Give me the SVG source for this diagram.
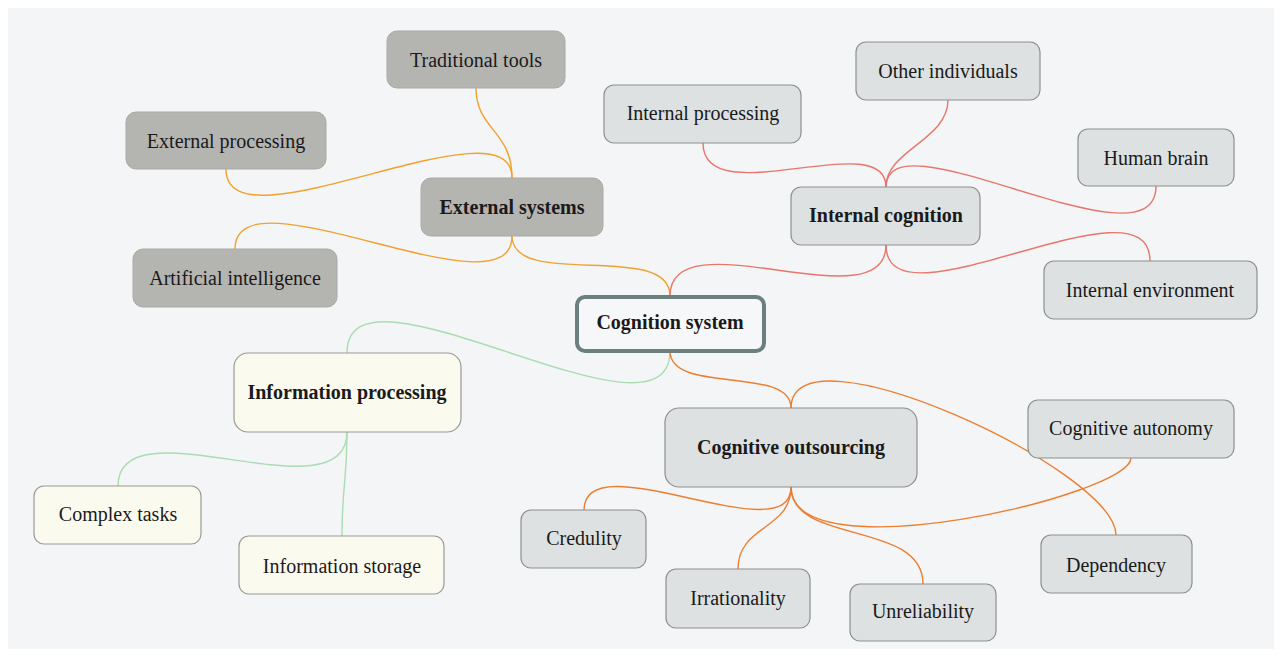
<svg xmlns="http://www.w3.org/2000/svg" width="1282" height="657" viewBox="0 0 1282 657">
<defs>
<style>
.t{font-family:"Liberation Serif","Times New Roman",serif;font-size:20px;fill:#1a1a1a;text-anchor:middle;dominant-baseline:central}
.b{font-weight:bold}
.g{fill:#b4b4b1;stroke:#a9a9a6;stroke-width:1}
.l{fill:#dde1e1;stroke:#8c9090;stroke-width:1.2}
.c{fill:#fafaef;stroke:#9a9a94;stroke-width:1.2}
.m{fill:#f6f7f8;stroke:#6b7f7f;stroke-width:4}
.e{fill:none;stroke-width:1.4}
.ex{stroke:#f2a12c}
.in{stroke:#e8766c}
.gr{stroke:#a9dcb2}
.co{stroke:#ec7e30}
</style>
</defs>
<rect x="0" y="0" width="1282" height="657" fill="#ffffff"/>
<rect x="8" y="8" width="1266" height="641" fill="#f4f5f6"/>
<g id="connectors">
<path class="e ex" d="M512,236 C512,290 670,240 670,296"/>
<path class="e ex" d="M512,236 C512,320 235,165 235,249"/>
<path class="e ex" d="M512,178 C512,130 476,130 476,88"/>
<path class="e ex" d="M512,178 C512,95 226,255 226,169"/>
<path class="e in" d="M670,296 C670,215 886,325 886,245"/>
<path class="e in" d="M886,245 C886,335 1150,170 1150,261"/>
<path class="e in" d="M886,187 C886,125 703,215 703,143"/>
<path class="e in" d="M886,187 C886,150 948,140 948,100"/>
<path class="e in" d="M886,187 C886,110 1156,275 1156,186"/>
<path class="e gr" d="M670,351 C670,460 347,245 347,353"/>
<path class="e gr" d="M347,432 C347,520 118,400 118,486"/>
<path class="e gr" d="M347,432 C347,484 342,484 342,536"/>
<path class="e co" d="M670,351 C670,395 791,365 791,408"/>
<path class="e co" d="M791,408 C791,320 1116,470 1116,535"/>
<path class="e co" d="M791,487 C791,575 1131,495 1131,458"/>
<path class="e co" d="M791,487 C791,555 584,440 584,510"/>
<path class="e co" d="M791,487 C791,530 738,525 738,569"/>
<path class="e co" d="M791,487 C791,545 923,520 923,584"/>
</g>
<g id="traditional-tools"><rect class="g" x="387" y="31" width="178" height="57" rx="10"/><text class="t" x="476" y="59.5">Traditional tools</text></g>
<g id="external-processing"><rect class="g" x="126" y="112" width="200" height="57" rx="10"/><text class="t" x="226" y="140.5">External processing</text></g>
<g id="external-systems"><rect class="g" x="421" y="178" width="182" height="58" rx="10"/><text class="t b" x="512" y="207">External systems</text></g>
<g id="artificial-intelligence"><rect class="g" x="133" y="249" width="204" height="58" rx="10"/><text class="t" x="235" y="278">Artificial intelligence</text></g>
<g id="internal-processing"><rect class="l" x="604" y="85" width="197" height="58" rx="10"/><text class="t" x="703" y="113">Internal processing</text></g>
<g id="other-individuals"><rect class="l" x="856" y="42" width="184" height="58" rx="10"/><text class="t" x="948" y="71">Other individuals</text></g>
<g id="human-brain"><rect class="l" x="1078" y="129" width="156" height="57" rx="10"/><text class="t" x="1156" y="157.5">Human brain</text></g>
<g id="internal-cognition"><rect class="l" x="791" y="187" width="189" height="58" rx="10"/><text class="t b" x="886" y="215">Internal cognition</text></g>
<g id="internal-environment"><rect class="l" x="1044" y="261" width="213" height="58" rx="10"/><text class="t" x="1150" y="290">Internal environment</text></g>
<g id="cognition-system"><rect class="m" x="577" y="297" width="187" height="54" rx="8"/><text class="t b" x="670" y="322">Cognition system</text></g>
<g id="information-processing"><rect class="c" x="234" y="353" width="227" height="79" rx="14"/><text class="t b" x="347" y="392">Information processing</text></g>
<g id="complex-tasks"><rect class="c" x="34" y="486" width="167" height="58" rx="10"/><text class="t" x="118" y="514">Complex tasks</text></g>
<g id="information-storage"><rect class="c" x="239" y="536" width="205" height="58" rx="10"/><text class="t" x="342" y="566">Information storage</text></g>
<g id="cognitive-outsourcing"><rect class="l" x="665" y="408" width="252" height="79" rx="14"/><text class="t b" x="791" y="447">Cognitive outsourcing</text></g>
<g id="cognitive-autonomy"><rect class="l" x="1028" y="400" width="206" height="58" rx="10"/><text class="t" x="1131" y="428">Cognitive autonomy</text></g>
<g id="credulity"><rect class="l" x="521" y="510" width="125" height="58" rx="10"/><text class="t" x="584" y="538">Credulity</text></g>
<g id="irrationality"><rect class="l" x="666" y="569" width="144" height="59" rx="10"/><text class="t" x="738" y="598">Irrationality</text></g>
<g id="unreliability"><rect class="l" x="850" y="584" width="146" height="57" rx="10"/><text class="t" x="923" y="611">Unreliability</text></g>
<g id="dependency"><rect class="l" x="1041" y="535" width="151" height="58" rx="10"/><text class="t" x="1116" y="565">Dependency</text></g>
</svg>
